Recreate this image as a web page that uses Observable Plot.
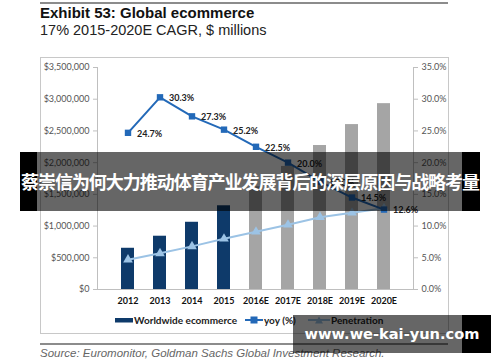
<!DOCTYPE html>
<html><head><meta charset="utf-8">
<script src="https://cdn.jsdelivr.net/npm/d3@7"></script>
<script src="https://cdn.jsdelivr.net/npm/@observablehq/plot@0.6"></script>
<style>
body{margin:0;background:#fff;}
#wrap{position:relative;width:500px;height:362px;overflow:hidden;font-family:"Liberation Sans",Arial,sans-serif;}
.toprule{position:absolute;left:40px;top:2px;width:408px;height:2px;background:#8c8c8c;}
.title{position:absolute;left:40px;top:4px;font-size:15px;font-weight:bold;color:#111;line-height:18px;}
.sub{position:absolute;left:40px;top:21px;font-size:14.5px;color:#222;line-height:18px;}
.frame{position:absolute;left:40px;top:57px;width:407px;height:275px;border:1px solid #c8c8c8;}
#chart{position:absolute;left:0;top:50px;}
.legend{position:absolute;top:313px;left:0;width:500px;height:14px;font-family:Lato,sans-serif;font-weight:bold;font-size:10px;color:#222;}
.legend span{position:absolute;top:0;line-height:14px;}
.legend svg{position:absolute;top:0;}
.rule2{position:absolute;left:40px;top:343px;width:408px;height:1.5px;background:#8c8c8c;}
.source{position:absolute;left:40px;top:346px;font-size:11.5px;font-style:italic;color:#666;line-height:14px;}
.banner{position:absolute;left:20px;top:152px;width:460px;height:59px;background:rgba(0,0,0,0.6);}
.banner .bl{position:absolute;left:0;top:0;width:17px;height:59px;background:#000;}
.banner .br{position:absolute;right:0;top:0;width:18px;height:59px;background:#000;}
.banner .bt{position:absolute;left:0;top:0;width:460px;height:59px;line-height:59px;text-align:center;color:#fff;font-family:"Noto Sans CJK SC",sans-serif;font-weight:bold;font-size:18px;white-space:nowrap;overflow:hidden;}
.wm{position:absolute;left:293px;top:315px;width:198px;height:38px;background:rgba(0,0,0,0.6);}
.wm .br{position:absolute;right:0;top:0;width:29px;height:38px;background:#000;}
.wm .wt{position:absolute;left:0;top:0;width:198px;height:38px;line-height:38px;text-align:center;color:#fff;font-family:"DejaVu Sans",sans-serif;font-weight:bold;font-size:14.6px;white-space:nowrap;}
</style></head><body>
<div id="wrap">
  <div class="toprule"></div>
  <div class="title">Exhibit 53: Global ecommerce</div>
  <div class="sub">17% 2015-2020E CAGR, $ millions</div>
  <div class="frame"></div>
  <div id="chart"></div>
  <div class="legend" id="legend"></div>
  <div class="rule2"></div>
  <div class="source">Source: Euromonitor, Goldman Sachs Global Investment Research.</div>
  <div class="banner"><div class="bl"></div><div class="br"></div><div class="bt"><span id="btext">蔡崇信为何大力推动体育产业发展背后的深层原因与战略考量</span></div></div>
  <div class="wm"><div class="br"></div><div class="wt">www.we-kai-yun.com</div></div>
</div>
<script>
const years = ["2012","2013","2014","2015","2016E","2017E","2018E","2019E","2020E"];
const ecommerce = [650000,840000,1060000,1320000,1620000,1940000,2270000,2600000,2930000];
const period = ["actual","actual","actual","actual","estimate","estimate","estimate","estimate","estimate"];
const yoy = [24.7,30.3,27.3,25.2,22.5,20.0,17.0,14.5,12.6];
const penetration = [4.7,5.7,6.8,8.0,9.1,10.2,11.4,12.1,12.8];
const leftTicks = [0,500000,1000000,1500000,2000000,2500000,3000000,3500000];
const rightTicks = [0,5,10,15,20,25,30,35];
const seriesNames = ["Worldwide ecommerce","yoy (%)","Penetration"];

const NAVY = "#0e3a6a", GREY = "#a5a5a5", BLUE = "#2369b8", LIGHT = "#9cc3e5";
// right axis (percent) mapped onto the dollar scale: 35% <-> 3,500,000
const k = 3500000 / 35;

const data = years.map((y, i) => ({
  year: y, value: ecommerce[i], period: period[i],
  yoy: yoy[i], pen: penetration[i]
}));

const chart = Plot.plot({
  width: 500, height: 265,
  marginTop: 17, marginBottom: 26, marginLeft: 97, marginRight: 87,
  style: {fontFamily: "Lato, sans-serif", fontSize: "9px", background: "transparent"},
  x: {domain: years, padding: 0.6, label: null},
  y: {domain: [0, 3500000], label: null},
  color: {domain: ["actual","estimate"], range: [NAVY, GREY]},
  marks: [
    Plot.frame({anchor: "left", stroke: "#bfbfbf"}),
    Plot.frame({anchor: "right", stroke: "#bfbfbf"}),
    Plot.axisY({ticks: leftTicks, tickFormat: d3.format("$,.0f"), tickSize: 4, tickPadding: 4, stroke: "#bfbfbf", color: "#555", label: null}),
    Plot.axisY({anchor: "right", ticks: rightTicks.map(t => t * k), tickFormat: d => (d / k).toFixed(1) + "%", tickSize: 4, tickPadding: 4, stroke: "#bfbfbf", color: "#555", label: null}),
    Plot.axisX({tickSize: 0, tickPadding: 8, fontWeight: "bold", color: "#111", label: null}),
    Plot.barY(data, {x: "year", y: "value", fill: "period"}),
    Plot.ruleY([0], {stroke: "#bfbfbf"}),
    Plot.line(data, {x: "year", y: d => d.pen * k, stroke: LIGHT, strokeWidth: 2}),
    Plot.dot(data, {x: "year", y: d => d.pen * k, symbol: "triangle", fill: LIGHT, r: 3.6}),
    Plot.line(data, {x: "year", y: d => d.yoy * k, stroke: BLUE, strokeWidth: 2}),
    Plot.dot(data, {x: "year", y: d => d.yoy * k, symbol: "square", fill: BLUE, r: 3.6}),
    Plot.text(data, {x: "year", y: d => d.yoy * k, text: d => d.yoy.toFixed(1) + "%", dx: 9, dy: 1, textAnchor: "start", fontWeight: "bold", fontSize: 9, fill: "#222"})
  ]
});
document.getElementById("chart").appendChild(chart);

// fit the banner text into 460px by adjusting letter spacing
const bt = document.getElementById("btext");
const n = bt.textContent.length;
const w = bt.getBoundingClientRect().width;
bt.style.letterSpacing = ((458 - w) / n) + "px";

// legend
const lg = document.getElementById("legend");
lg.innerHTML =
  `<svg style="left:115px" width="18" height="14"><rect x="0" y="5" width="18" height="4.5" fill="${NAVY}"/></svg>` +
  `<span style="left:134px">${seriesNames[0]}</span>` +
  `<svg style="left:245px" width="18" height="14"><line x1="0" x2="18" y1="7" y2="7" stroke="${BLUE}" stroke-width="2"/><rect x="5.5" y="3.5" width="7" height="7" fill="${BLUE}"/></svg>` +
  `<span style="left:264px">${seriesNames[1]}</span>` +
  `<svg style="left:308px" width="22" height="14"><line x1="0" x2="22" y1="7" y2="7" stroke="${LIGHT}" stroke-width="2"/><path d="M11,3.5L15,10.5L7,10.5Z" fill="${LIGHT}"/></svg>` +
  `<span style="left:331px">${seriesNames[2]}</span>`;
</script>
</body></html>
